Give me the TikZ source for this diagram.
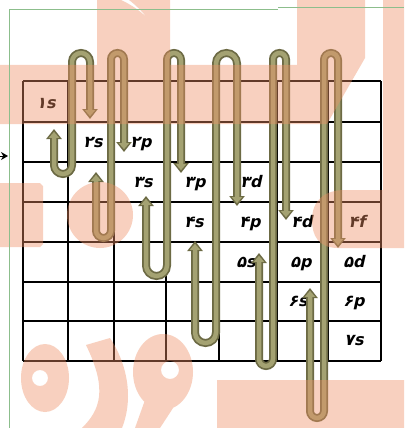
\documentclass[tikz,border=0pt]{standalone}
\usepackage{fontspec}
\usepackage{xcolor}
\usepackage{tikz}
\usetikzlibrary{arrows.meta, positioning}
\newfontfamily\orbfont[FakeSlant=0.22]{DejaVu Sans Bold}
\definecolor{olivedark}{RGB}{108,106,68}
\definecolor{olivelight}{RGB}{164,162,114}
\definecolor{wmark}{RGB}{238,143,100}
\definecolor{framegreen}{RGB}{140,190,140}

\begin{document}
\begin{tikzpicture}[x=1pt, y=-1pt,
  orb/.style={font=\orbfont\fontsize{16}{16}\selectfont, anchor=base, inner sep=0pt},
  gridline/.style={black, line width=1.3pt}]
  \useasboundingbox (0,0) rectangle (404,428);
  \fill[white] (0,0) rectangle (404,428);

  % Table lines
  \foreach \y in {81,122,162,202,242,282,321,361}
    \draw[gridline] (23,\y) -- (381,\y);
  \foreach \x in {23,68,114,166,219,277,328,381}
    \draw[gridline] (\x,81) -- (\x,361);

  % Orbital labels (row baselines)
  \node[orb] (o1s) at (46,108) {۱s};
  \node[orb] (o2s) at (93,147) {۲s};
  \node[orb] (o2p) at (141,147) {۲p};
  \node[orb] (o3s) at (143,187) {۳s};
  \node[orb] (o3p) at (195,187) {۳p};
  \node[orb] (o3d) at (251,187) {۳d};
  \node[orb] (o4s) at (194,227) {۴s};
  \node[orb] (o4p) at (250,227) {۴p};
  \node[orb] (o4d) at (302,227) {۴d};
  \node[orb] (o4f) at (357,227) {۴f};
  \node[orb] (o5s) at (246,267) {۵s};
  \node[orb] (o5p) at (301,267) {۵p};
  \node[orb] (o5d) at (354,267) {۵d};
  \node[orb] (o6s) at (298,306) {۶s};
  \node[orb] (o6p) at (354,306) {۶p};
  \node[orb] (o7s) at (354,345) {۷s};

  % Filling order: bottom U up, top U down
  \foreach \xa/\xb/\xc/\ya/\yb/\yc in {54/72/90/129/174/119, 96/111/124/172/238/152,
      146/167/181/196/276/173, 195/216/237/241/343/206,
      259/273/286/253/366/220, 310/324/338/288/418/248}
  {
    \draw[olivedark, line width=8pt,
      {Triangle[width=15pt,length=10pt]}-{Triangle[width=15pt,length=10pt]}]
      (\xa,\ya) -- (\xa,{\yb-(\xb-\xa)/2})
      arc[start angle=180, end angle=0, radius={(\xb-\xa)/2}]
      -- (\xb,{53+(\xc-\xb)/2})
      arc[start angle=180, end angle=360, radius={(\xc-\xb)/2}] -- (\xc,\yc);
    \draw[olivelight, line width=4.5pt, shorten <=2.8pt, shorten >=2.8pt,
      {Triangle[width=10pt,length=6pt]}-{Triangle[width=10pt,length=6pt]}]
      (\xa,\ya) -- (\xa,{\yb-(\xb-\xa)/2})
      arc[start angle=180, end angle=0, radius={(\xb-\xa)/2}]
      -- (\xb,{53+(\xc-\xb)/2})
      arc[start angle=180, end angle=360, radius={(\xc-\xb)/2}] -- (\xc,\yc);
  }

  % Watermark overlay
  \fill[wmark, opacity=0.41]
    (97,0) -- (170,0) -- (170,65) -- (297,65) -- (297,0) -- (365,0) -- (365,58)
      -- (327,124) -- (0,124) -- (0,65) -- (97,65) -- cycle
    (121,0) .. controls (143,10) and (160,28) .. (168,48)
      .. controls (156,26) and (140,8) .. (129,0) -- cycle
    (383,0) -- (404,0) -- (404,190) -- (383,190) -- cycle
    (404,190) -- (404,248) -- (338,248) .. controls (318,248) and (312,235) .. (312,220)
      .. controls (312,200) and (325,190) .. (345,190) -- cycle
    (0,183) -- (40,183) -- (43,186) -- (43,244) -- (40,247) -- (0,247) -- cycle
    (100,215) circle[radius=33]
    (45,378) ellipse[x radius=24, y radius=34]
    (48,378) arc[start angle=0, end angle=-360, radius=8]
    (86,345) -- (110,338) .. controls (125,360) and (135,395) .. (122,428)
      -- (82,428) .. controls (100,410) and (108,390) .. (86,345) -- cycle
    (163,372) ellipse[x radius=30, y radius=38]
    (179,370) arc[start angle=0, end angle=-360, radius=9]
    (145,400) -- (175,405) -- (160,428) -- (135,428) -- cycle
    (217,380) -- (404,380) -- (404,428) -- (217,428) -- cycle;

  % Frame and side pointer
  \draw[framegreen, line width=0.8pt] (9,428) -- (9,9) -- (278,9);
  \draw[framegreen, line width=0.8pt] (278,7) -- (404,7);
  \coordinate (pin) at (-6,156);
  \coordinate (pout) at (8,156);
  \draw[line width=1pt, -{Stealth[length=7pt, width=8pt]}] (pin) -- (pout);
\end{tikzpicture}
\end{document}
